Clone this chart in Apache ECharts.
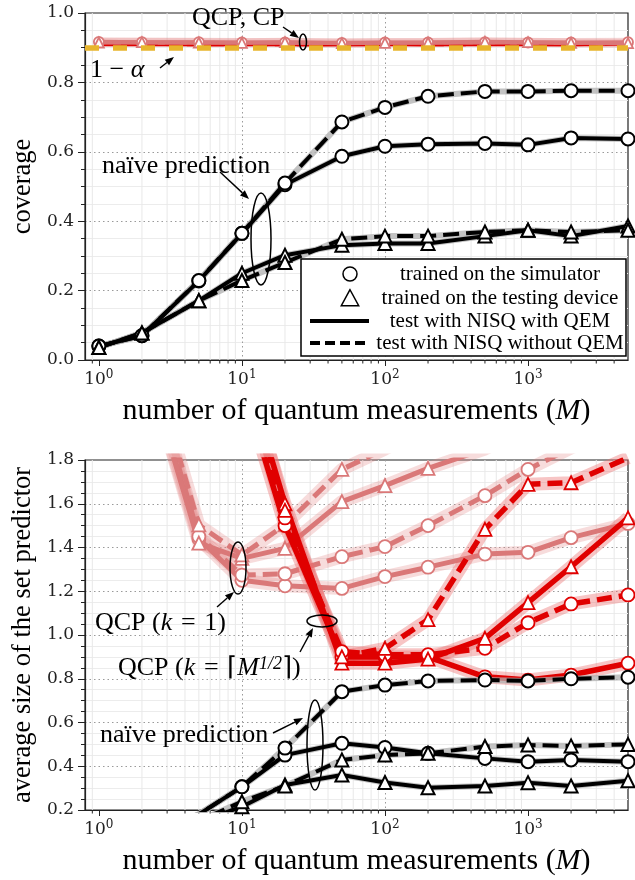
<!DOCTYPE html>
<html>
<head>
<meta charset="utf-8">
<script src="https://cdn.jsdelivr.net/npm/echarts@6/dist/echarts.min.js"></script>
<style>
  html, body { margin: 0; padding: 0; background: #fff; }
  #chart { width: 635px; height: 880px; }
</style>
</head>
<body>
<div id="chart"></div>
<script>
// ---- measurement budgets (x axis, log scale) ----
const M = [1, 2, 5, 10, 20, 50, 100, 200, 500, 1000, 2000, 5000];
const majorX = [1, 10, 100, 1000];
const minorX = [0.9, 2, 3, 4, 5, 6, 7, 8, 9, 20, 30, 40, 50, 60, 70, 80, 90,
                200, 300, 400, 500, 600, 700, 800, 900, 2000, 3000, 4000];
const alphaLevel = 0.9;

// ---- coverage (upper panel) ----
const covQcp1Sim     = [0.917, 0.916, 0.916, 0.915, 0.915, 0.914, 0.915, 0.915, 0.916, 0.915, 0.915, 0.916];
const covQcp1Dev     = [0.915, 0.916, 0.915, 0.914, 0.916, 0.913, 0.914, 0.915, 0.917, 0.916, 0.914, 0.913];
const covQcpSqrtSim  = [0.908, 0.907, 0.907, 0.908, 0.907, 0.906, 0.907, 0.907, 0.908, 0.907, 0.906, 0.909];
const covQcpSqrtDev  = [0.907, 0.908, 0.906, 0.907, 0.906, 0.907, 0.908, 0.906, 0.907, 0.908, 0.907, 0.910];
const covNaiveSimQEM   = [0.040, 0.070, 0.228, 0.365, 0.505, 0.587, 0.616, 0.622, 0.624, 0.620, 0.640, 0.637];
const covNaiveSimNoQEM = [0.040, 0.070, 0.229, 0.365, 0.510, 0.686, 0.728, 0.760, 0.774, 0.774, 0.776, 0.776];
const covNaiveDevQEM   = [0.036, 0.078, 0.171, 0.250, 0.302, 0.331, 0.336, 0.336, 0.357, 0.374, 0.357, 0.386];
const covNaiveDevNoQEM = [0.036, 0.078, 0.171, 0.229, 0.281, 0.348, 0.357, 0.357, 0.369, 0.374, 0.369, 0.374];

// ---- average set size (lower panel) ----
const sizeQcp1SimQEM     = [3.40, 2.30, 1.440, 1.250, 1.225, 1.213, 1.267, 1.310, 1.370, 1.378, 1.445, 1.510];
const sizeQcp1SimNoQEM   = [3.45, 2.35, 1.450, 1.274, 1.280, 1.358, 1.404, 1.500, 1.637, 1.757, 1.855, 1.980];
const sizeQcp1DevQEM     = [3.40, 2.30, 1.420, 1.350, 1.396, 1.610, 1.683, 1.762, 1.850, 1.950, 2.050, 2.150];
const sizeQcp1DevNoQEM   = [3.50, 2.40, 1.503, 1.366, 1.503, 1.757, 1.850, 1.950, 2.050, 2.150, 2.250, 2.350];
const sizeQcpSqrtSimQEM   = [6.0, 4.3, 2.90, 2.15, 1.500, 0.900, 0.900, 0.900, 0.809, 0.794, 0.817, 0.871];
const sizeQcpSqrtSimNoQEM = [6.1, 4.4, 2.95, 2.22, 1.535, 0.924, 0.910, 0.910, 0.939, 1.056, 1.142, 1.183];
const sizeQcpSqrtDevQEM   = [6.0, 4.3, 2.90, 2.26, 1.600, 0.871, 0.871, 0.890, 0.985, 1.148, 1.312, 1.535];
const sizeQcpSqrtDevNoQEM = [6.1, 4.4, 2.95, 2.30, 1.570, 0.900, 0.939, 1.070, 1.483, 1.689, 1.696, 1.810];
const sizeNaiveSimQEM   = [0.040, 0.070, 0.180, 0.306, 0.451, 0.505, 0.486, 0.459, 0.436, 0.421, 0.429, 0.421];
const sizeNaiveSimNoQEM = [0.040, 0.070, 0.180, 0.306, 0.483, 0.741, 0.771, 0.790, 0.794, 0.790, 0.800, 0.807];
const sizeNaiveDevQEM   = [0.040, 0.075, 0.145, 0.215, 0.314, 0.360, 0.326, 0.302, 0.310, 0.325, 0.310, 0.334];
const sizeNaiveDevNoQEM = [0.040, 0.075, 0.150, 0.238, 0.310, 0.429, 0.451, 0.459, 0.490, 0.497, 0.493, 0.500];

// ---- styling ----
const SERIF = '"Liberation Serif", "Times New Roman", serif';
const TICKFONT = '"DejaVu Serif", serif';
const PINK = '#da7878', PINK_BAND = 'rgba(226,130,130,0.28)';
const RED = '#e00000', RED_BAND = 'rgba(236,110,110,0.40)';
const BLACK = '#000', GRAY_BAND = 'rgba(175,175,175,0.75)';
const GOLD = '#e8b52c';
const DASH_BLACK = [16, 7];
const DASH_COLOR = [15, 7];

function pts(vals) { return M.map((m, i) => [m, vals[i]]); }

// one curve = a pale confidence band underneath + the main line with hollow markers
function curve(gi, vals, opt) {
  const band = {
    type: 'line', xAxisIndex: gi, yAxisIndex: gi, data: pts(vals),
    symbol: 'none', silent: true, z: opt.z - 0.5,
    lineStyle: { color: opt.band, width: opt.bandWidth },
    emphasis: { disabled: true }
  };
  const main = {
    type: 'line', xAxisIndex: gi, yAxisIndex: gi, data: pts(vals),
    symbol: opt.symbol, symbolSize: opt.size, showAllSymbol: true, silent: true, z: opt.z,
    lineStyle: { color: opt.color, width: opt.width, type: opt.dashed ? opt.dash : 'solid' },
    itemStyle: { color: '#fff', borderColor: opt.color, borderWidth: opt.borderWidth || 1.8 },
    emphasis: { disabled: true }
  };
  return [band, main];
}

function minorGrid(gi, yMin, yMax) {
  return {
    type: 'custom', xAxisIndex: gi, yAxisIndex: gi, z: 1, clip: false, silent: true,
    data: minorX.map(v => [v, yMin]),
    renderItem(params, api) {
      const x = api.value(0);
      const top = api.coord([x, yMax]);
      const bot = api.coord([x, yMin]);
      return {
        type: 'group', children: [
          { type: 'line', shape: { x1: top[0], y1: top[1], x2: bot[0], y2: bot[1] },
            style: { stroke: '#e8e8e8', lineWidth: 1 } },
          { type: 'line', shape: { x1: bot[0], y1: bot[1], x2: bot[0], y2: bot[1] + 3.5 },
            style: { stroke: '#222', lineWidth: 1 } }
        ]
      };
    }
  };
}

function xAx(gi) {
  return {
    type: 'log', logBase: 10, gridIndex: gi, min: 0.8, max: 5000,
    name: 'number of quantum measurements ({i|M})',
    nameLocation: 'middle', nameGap: 36,
    nameTextStyle: {
      fontFamily: SERIF, fontSize: 30, color: '#000',
      rich: { i: { fontFamily: SERIF, fontSize: 30, fontStyle: 'italic', color: '#000' } }
    },
    axisLine: { show: true, onZero: false, lineStyle: { color: '#222', width: 1.2 } },
    axisTick: { show: true, length: 6, customValues: majorX, lineStyle: { color: '#222', width: 1 } },
    axisLabel: {
      customValues: majorX, margin: 9,
      formatter: v => '{b|10}{s|' + Math.round(Math.log10(v)) + '}',
      rich: {
        b: { fontFamily: TICKFONT, fontSize: 17, color: '#222', lineHeight: 22 },
        s: { fontFamily: TICKFONT, fontSize: 12, color: '#222', verticalAlign: 'top', lineHeight: 12 }
      }
    },
    splitLine: { show: true, showMinLine: false, showMaxLine: false,
      lineStyle: { color: '#9a9a9a', width: 1, type: [1.5, 3] } }
  };
}

function yAx(gi, min, max, name, gap) {
  return {
    type: 'value', gridIndex: gi, min, max, interval: 0.2,
    name, nameLocation: 'middle', nameGap: gap,
    nameTextStyle: { fontFamily: SERIF, fontSize: 26.5, color: '#000' },
    axisLine: { show: true, onZero: false, lineStyle: { color: '#222', width: 1.2 } },
    axisTick: { show: true, length: 7, lineStyle: { color: '#222', width: 1 } },
    minorTick: { show: true, splitNumber: 4, length: 4, lineStyle: { color: '#222', width: 1 } },
    axisLabel: { margin: 11, fontFamily: TICKFONT, fontSize: 17, color: '#222',
      formatter: v => v.toFixed(1) },
    splitLine: { show: true, showMinLine: false, showMaxLine: false,
      lineStyle: { color: '#9a9a9a', width: 1, type: [1.5, 3] } },
    minorSplitLine: { show: true, lineStyle: { color: '#ececec', width: 1 } }
  };
}

const pinkTop = { color: PINK, band: PINK_BAND, bandWidth: 9, width: 4, size: 10, z: 3, dash: DASH_COLOR };
const redTop  = { color: RED, band: RED_BAND, bandWidth: 3, width: 1.5, size: 0, z: 2.8, dash: DASH_COLOR };
const pinkBot = { color: PINK, band: PINK_BAND, bandWidth: 13, width: 5, size: 13, z: 3, dash: DASH_COLOR };
const redBot  = { color: RED, band: RED_BAND, bandWidth: 13, width: 5.5, size: 13, z: 4, dash: DASH_COLOR };
const blk     = { color: BLACK, band: GRAY_BAND, bandWidth: 6, width: 4, size: 13, z: 5, dash: DASH_BLACK, borderWidth: 2 };

const series = [
  minorGrid(0, 0, 1),
  minorGrid(1, 0.2, 1.8),
  // upper panel: QCP coverage
  ...curve(0, covQcpSqrtSim, { ...redTop, symbol: 'none' }),
  ...curve(0, covQcpSqrtDev, { ...redTop, symbol: 'none', dashed: true }),
  ...curve(0, covQcp1Sim, { ...pinkTop, symbol: 'circle' }),
  ...curve(0, covQcp1Dev, { ...pinkTop, symbol: 'triangle' }),
  // target level 1 - alpha
  {
    type: 'line', xAxisIndex: 0, yAxisIndex: 0, data: [], z: 6, silent: true,
    markLine: {
      silent: true, symbol: 'none', label: { show: false },
      lineStyle: { color: GOLD, width: 5.5, type: [14, 14] },
      data: [{ yAxis: alphaLevel }]
    }
  },
  // upper panel: naive coverage
  ...curve(0, covNaiveSimQEM, { ...blk, symbol: 'circle' }),
  ...curve(0, covNaiveSimNoQEM, { ...blk, symbol: 'circle', dashed: true }),
  ...curve(0, covNaiveDevQEM, { ...blk, symbol: 'triangle' }),
  ...curve(0, covNaiveDevNoQEM, { ...blk, symbol: 'triangle', dashed: true }),
  // lower panel: QCP (k = 1)
  ...curve(1, sizeQcp1SimQEM, { ...pinkBot, symbol: 'circle' }),
  ...curve(1, sizeQcp1SimNoQEM, { ...pinkBot, symbol: 'circle', dashed: true }),
  ...curve(1, sizeQcp1DevQEM, { ...pinkBot, symbol: 'triangle' }),
  ...curve(1, sizeQcp1DevNoQEM, { ...pinkBot, symbol: 'triangle', dashed: true }),
  // lower panel: QCP (k = ceil(sqrt M))
  ...curve(1, sizeQcpSqrtSimQEM, { ...redBot, symbol: 'circle' }),
  ...curve(1, sizeQcpSqrtSimNoQEM, { ...redBot, symbol: 'circle', dashed: true }),
  ...curve(1, sizeQcpSqrtDevQEM, { ...redBot, symbol: 'triangle' }),
  ...curve(1, sizeQcpSqrtDevNoQEM, { ...redBot, symbol: 'triangle', dashed: true }),
  // lower panel: naive prediction
  ...curve(1, sizeNaiveSimQEM, { ...blk, symbol: 'circle' }),
  ...curve(1, sizeNaiveSimNoQEM, { ...blk, symbol: 'circle', dashed: true }),
  ...curve(1, sizeNaiveDevQEM, { ...blk, symbol: 'triangle' }),
  ...curve(1, sizeNaiveDevNoQEM, { ...blk, symbol: 'triangle', dashed: true })
];

// ---- annotations ----
const Z = 100;
function arrow(x1, y1, x2, y2) {
  const a = Math.atan2(y2 - y1, x2 - x1), L = 9, W = 3.5;
  const bx = x2 - L * Math.cos(a), by = y2 - L * Math.sin(a);
  return [
    { type: 'line', z: Z, silent: true, shape: { x1, y1, x2: bx, y2: by }, style: { stroke: '#000', lineWidth: 1.4 } },
    { type: 'polygon', z: Z, silent: true,
      shape: { points: [[x2, y2], [bx - W * Math.sin(a), by + W * Math.cos(a)], [bx + W * Math.sin(a), by - W * Math.cos(a)]] },
      style: { fill: '#000' } }
  ];
}
function ring(cx, cy, rx, ry) {
  return { type: 'ellipse', z: Z, silent: true, shape: { cx, cy, rx, ry },
    style: { fill: 'none', stroke: '#000', lineWidth: 1.5 } };
}
const richItalic = { i: { fontFamily: SERIF, fontSize: 26, fontStyle: 'italic', fill: '#000' } };
function label(x, y, text, extraRich) {
  return { type: 'text', z: Z, silent: true, x, y,
    style: { text, fontFamily: SERIF, fontSize: 26, fill: '#000', verticalAlign: 'middle',
      rich: Object.assign({}, richItalic, extraRich || {}) } };
}

// legend box of the upper panel
function legendBox() {
  const x0 = 301, y0 = 259, w = 325, h = 97;
  const mx = 350, tx = 500;
  const rows = [274, 298, 321, 343];
  const txt = (y, t) => ({ type: 'text', z: Z + 1, silent: true, x: tx, y,
    style: { text: t, fontFamily: SERIF, fontSize: 21, fill: '#000', align: 'center', verticalAlign: 'middle' } });
  const tri = (cx, cy, s) => ({ type: 'polygon', z: Z + 1, silent: true,
    shape: { points: [[cx, cy - s * 0.62], [cx - s * 0.58, cy + s * 0.45], [cx + s * 0.58, cy + s * 0.45]] },
    style: { fill: '#fff', stroke: '#000', lineWidth: 1.5 } });
  return [
    { type: 'rect', z: Z, silent: true, shape: { x: x0, y: y0, width: w, height: h },
      style: { fill: '#fff', stroke: '#000', lineWidth: 1.5 } },
    { type: 'circle', z: Z + 1, silent: true, shape: { cx: mx, cy: rows[0], r: 7 },
      style: { fill: '#fff', stroke: '#000', lineWidth: 1.5 } },
    tri(mx, rows[1] + 1, 15),
    { type: 'line', z: Z + 1, silent: true, shape: { x1: 310, y1: rows[2], x2: 369, y2: rows[2] },
      style: { stroke: '#000', lineWidth: 4 } },
    { type: 'line', z: Z + 1, silent: true, shape: { x1: 310, y1: rows[3], x2: 369, y2: rows[3] },
      style: { stroke: '#000', lineWidth: 4, lineDash: [10, 5] } },
    txt(rows[0], 'trained on the simulator'),
    txt(rows[1], 'trained on the testing device'),
    txt(rows[2], 'test with NISQ with QEM'),
    txt(rows[3], 'test with NISQ without QEM')
  ];
}

const graphic = [
  // upper panel
  label(192, 18, 'QCP, CP'),
  ...arrow(283, 27, 299, 38),
  ring(303, 42, 3.5, 8),
  label(90, 70, '1 − {i|α}'),
  ...arrow(160, 68, 174, 57),
  label(102, 166, 'naïve prediction'),
  ...arrow(220, 172, 249, 199),
  ring(261, 239, 10, 46),
  ...legendBox(),
  // lower panel
  ring(238, 568, 8, 26),
  ...arrow(217, 607, 234, 592),
  label(95, 623, 'QCP ({i|k}\u2004=\u20041)'),
  ring(322, 621, 15, 6),
  ...arrow(300, 652, 313, 628),
  label(118, 668, 'QCP ({i|k}\u2004=\u2004⌈{i|M}{sup|1/2}⌉)',
    { sup: { fontFamily: SERIF, fontSize: 18, fontStyle: 'italic', fill: '#000', verticalAlign: 'top', lineHeight: 14 } }),
  label(100, 735, 'naïve prediction'),
  ...arrow(273, 733, 303, 718),
  ring(315, 745, 8, 45)
];

const option = {
  animation: false,
  backgroundColor: '#fff',
  grid: [
    { left: 85, top: 13, width: 543, height: 347, show: true, borderColor: '#222', borderWidth: 1.2, backgroundColor: '#fff' },
    { left: 85, top: 460, width: 543, height: 350, show: true, borderColor: '#222', borderWidth: 1.2, backgroundColor: '#fff' }
  ],
  xAxis: [xAx(0), xAx(1)],
  yAxis: [yAx(0, 0, 1, 'coverage', 45), yAx(1, 0.2, 1.8, 'average size of the set predictor', 47)],
  series,
  graphic
};

const chart = echarts.init(document.getElementById('chart'), null, { renderer: 'canvas' });
chart.setOption(option);
</script>
</body>
</html>
